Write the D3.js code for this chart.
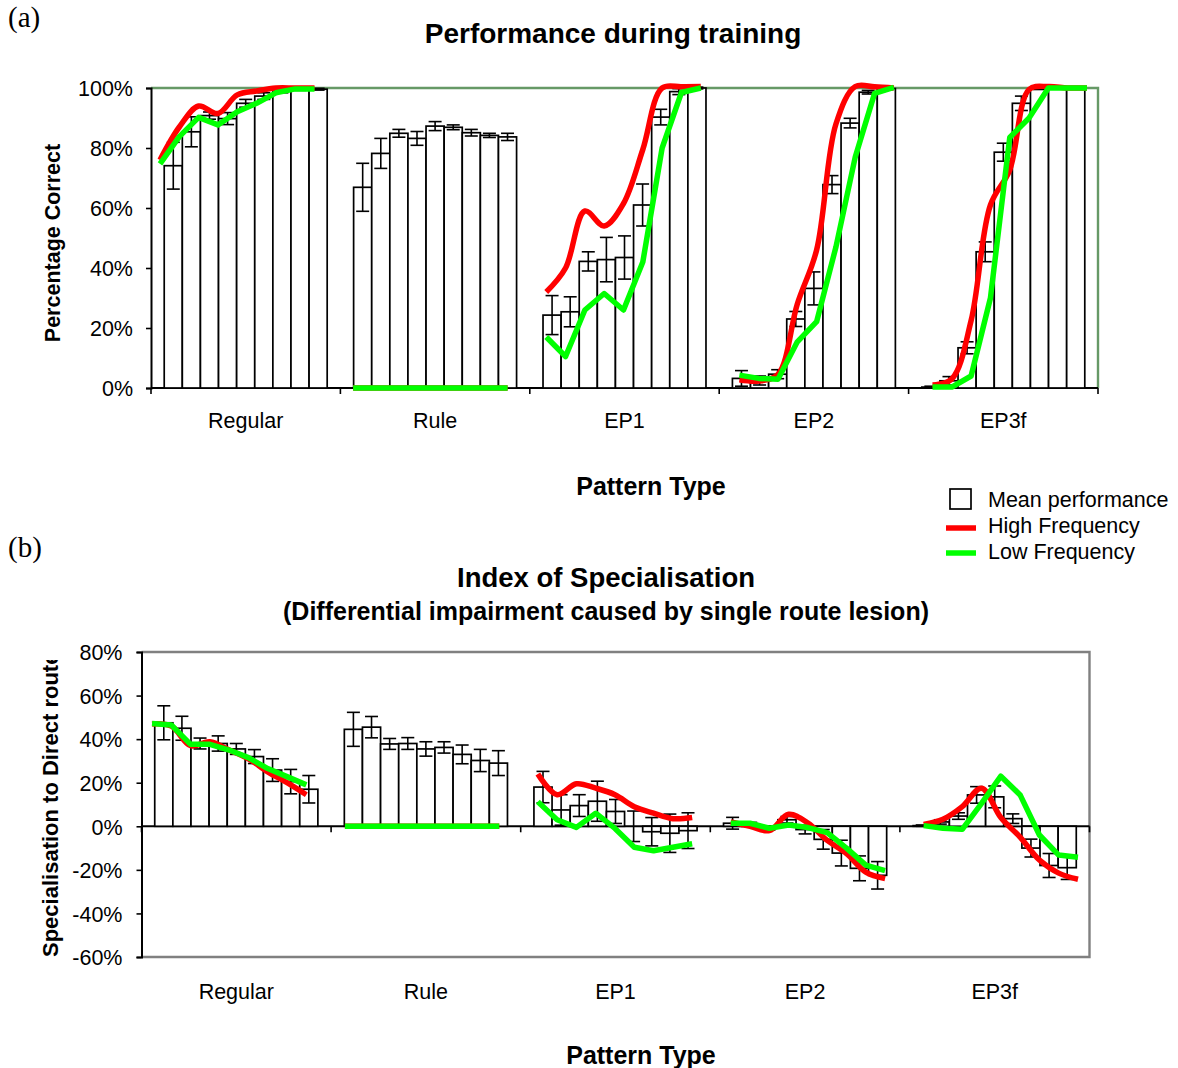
<!DOCTYPE html>
<html>
<head>
<meta charset="utf-8">
<script src="https://cdn.jsdelivr.net/npm/d3@7"></script>
<style>
  html, body { margin: 0; padding: 0; background: #fff; }
  svg text { font-family: "Liberation Sans", Arial, sans-serif; fill: #000; }
</style>
</head>
<body>
<svg id="fig" width="1178" height="1068"></svg>
<script>
// ---- data ----------------------------------------------------------
const categories = ["Regular", "Rule", "EP1", "EP2", "EP3f"];

// (a) mean performance during training (%), nine time points per pattern type
const perfMean = [
  [74.1, 85.4, 90.8, 89.8, 94.9, 97.3, 99.1, 99.6, 99.6],
  [66.9, 78.2, 84.9, 83.2, 87.3, 86.9, 85.1, 84.2, 83.7],
  [24.3, 25.4, 42.2, 42.8, 43.5, 61.0, 90.3, 98.8, 100],
  [3.2, 2.5, 4.6, 23.0, 33.2, 67.8, 88.3, 98.6, 99.8],
  [0.3, 2.4, 13.4, 45.4, 78.6, 94.9, 99.8, 100, 100]
];
const perfErr = [
  [7.8, 5.0, 1.2, 2.0, 1.3, 1.1, 0.7, 0.4, 0.3],
  [8.0, 5.0, 1.3, 2.3, 1.5, 0.8, 1.1, 0.7, 1.2],
  [6.5, 5.0, 3.2, 7.4, 7.2, 7.0, 2.6, 1.0, 0.3],
  [2.6, 1.5, 1.5, 2.5, 5.5, 3.0, 1.6, 0.6, 0.3],
  [0.3, 1.4, 2.0, 3.3, 3.0, 2.4, 0.3, 0, 0]
];
const perfHigh = [
  [76, 87, 94, 91.5, 97.7, 99, 100, 100, 100],
  [0, 0, 0, 0, 0, 0, 0, 0, 0],
  [32, 40, 59, 54, 61.5, 79.5, 100, 100.4, 100.5],
  [2.7, 2.3, 4.5, 28, 46, 88, 100.5, 100.4, 100],
  [1, 3, 22.5, 61, 72.7, 99.5, 100.5, 100, 100]
];
const perfLow = [
  [74.7, 83.8, 90.2, 87.7, 92.1, 94.9, 98.4, 99.7, 99.7],
  [0, 0, 0, 0, 0, 0, 0, 0, 0],
  [17, 10.5, 26, 31.5, 26, 42, 80, 98.5, 100],
  [4.3, 3.2, 2.9, 15.4, 22.1, 47, 77, 98.2, 100.2],
  [0.3, 0.3, 4, 30, 83.5, 90, 100, 100, 100]
];
const perfTicks = [0, 20, 40, 60, 80, 100];

// (b) index of specialisation (%)
const specMean = [
  [47.5, 45.0, 38.0, 38.0, 35.5, 32.0, 25.8, 20.5, 17.0],
  [44.5, 45.5, 37.8, 38.0, 35.5, 36.2, 33.0, 30.2, 29.0],
  [18.0, 7.5, 9.5, 11.5, 6.8, 0.0, -2.5, -3.2, -2.0],
  [1.4, 0.8, -0.8, 3.0, -1.5, -6.0, -12.3, -19.3, -22.5],
  [0.3, 2.0, 4.7, 14.4, 13.5, 3.5, -10.0, -18.0, -19.0]
];
const specErr = [
  [7.8, 5.5, 2.5, 3.5, 2.5, 3.2, 5.2, 5.6, 6.3],
  [7.8, 4.9, 2.5, 2.7, 3.3, 2.6, 4.3, 5.1, 5.7],
  [7.2, 7.0, 5.0, 9.2, 5.5, 7.0, 6.5, 8.8, 8.2],
  [2.7, 1.0, 1.0, 1.5, 2.0, 4.5, 5.9, 5.7, 6.3],
  [0.3, 1.0, 1.5, 3.8, 5.0, 2.2, 4.1, 5.5, 5.4]
];
const specHigh = [
  [47, 46, 37, 38.8, 35, 31, 25, 20, 14.5],
  [0, 0, 0, 0, 0, 0, 0, 0, 0],
  [24, 14.5, 19.5, 17.5, 14.5, 9, 6, 3.5, 4],
  [2, 0, -2, 5.5, 1.5, -6.5, -12.5, -21, -24],
  [0.8, 3.2, 9, 17.5, 4, -5, -15.5, -21.5, -24.3]
];
const specLow = [
  [47.2, 46.5, 37.6, 37.6, 35, 31.5, 26.5, 22.8, 19],
  [0, 0, 0, 0, 0, 0, 0, 0, 0],
  [11.3, 3, -0.5, 6, -1, -9.6, -11.2, -9.6, -8],
  [1.4, 1.4, -0.9, 0.6, -0.6, -2.9, -10, -17.8, -20.4],
  [0.3, -0.9, -1.4, 10.5, 23, 14.4, -4, -13.2, -14.2]
];
const specTicks = [-60, -40, -20, 0, 20, 40, 60, 80];

const legendItems = ["Mean performance", "High Frequency", "Low Frequency"];

// ---- drawing helpers ------------------------------------------------
const svg = d3.select("#fig");
const RED = "#ff0000", GREEN = "#00ff00";
const pct = d => d + "%";

// one panel: bars with error bars, plus the two frequency lines
function panel(cfg) {
  const g = svg.append("g");
  const { x0, x1, yTop, yBot, domain, mean, err, high, low, ticks, slotRange } = cfg;

  const y = d3.scaleLinear().domain(domain).range([yBot, yTop]);
  const group = d3.scaleBand().domain(categories).range([x0, x1]);
  const bar = d3.scaleBand().domain(d3.range(9)).range([0, group.bandwidth()])
    .paddingInner(0).paddingOuter(0.73);
  // the frequency lines use their own point scale: 9 points plus one empty slot per group
  const slot = d3.scalePoint().domain(d3.range(49)).range(slotRange);
  const base = y(Math.max(domain[0], 0));

  // frame
  cfg.frame(g, y, x0, x1);

  // y axis
  const yAxis = d3.axisLeft(y).tickValues(ticks).tickFormat(pct).tickSize(5).tickPadding(cfg.tickPad);
  const ya = g.append("g").attr("transform", `translate(${x0},0)`).call(yAxis);
  ya.select(".domain").attr("stroke", "#000").attr("stroke-width", 2);
  ya.selectAll(".tick line").attr("stroke", "#000").attr("stroke-width", 1.6);
  ya.selectAll(".tick text").style("font-size", "21.5px")
    .attr("font-family", "Liberation Sans, Arial, sans-serif").attr("dy", "0.36em");

  // category axis on the zero line
  const xa = g.append("g").attr("transform", `translate(0,${base})`);
  xa.append("line").attr("x1", x0).attr("x2", x1).attr("stroke", "#000").attr("stroke-width", 2);
  const bounds = categories.map(c => group(c)).concat([x1]);
  xa.selectAll("line.bt").data(bounds).join("line").attr("class", "bt")
    .attr("x1", d => d).attr("x2", d => d).attr("y1", 0).attr("y2", 6)
    .attr("stroke", "#000").attr("stroke-width", 1.6);
  g.selectAll("text.cat").data(categories).join("text").attr("class", "cat")
    .attr("x", d => group(d) + group.bandwidth() / 2).attr("y", cfg.catY)
    .attr("text-anchor", "middle").style("font-size", "21.5px").text(d => d);

  // bars
  categories.forEach((c, gi) => {
    const gx = group(c);
    const items = mean[gi].map((v, i) => ({ v, e: err[gi][i], i }));
    g.selectAll(null).data(items).join("rect")
      .attr("x", d => gx + bar(d.i)).attr("width", bar.bandwidth())
      .attr("y", d => Math.min(y(d.v), y(0)))
      .attr("height", d => Math.abs(y(d.v) - y(0)))
      .attr("fill", "#fff").attr("stroke", "#000").attr("stroke-width", 1.7);
    // error bars
    const eb = g.selectAll(null).data(items.filter(d => d.e > 0)).join("g")
      .attr("transform", d => `translate(${gx + bar(d.i) + bar.bandwidth() / 2},0)`);
    eb.append("line").attr("y1", d => y(d.v + d.e)).attr("y2", d => y(d.v - d.e))
      .attr("stroke", "#000").attr("stroke-width", 1.6);
    eb.selectAll("line.cap").data(d => [d.v + d.e, d.v - d.e]).join("line").attr("class", "cap")
      .attr("x1", -6.5).attr("x2", 6.5).attr("y1", d => y(d)).attr("y2", d => y(d))
      .attr("stroke", "#000").attr("stroke-width", 1.6);
  });

  // frequency lines (high smoothed, low straight)
  const series = [
    { data: high, color: RED, curve: d3.curveCatmullRom.alpha(0.5) },
    { data: low, color: GREEN, curve: d3.curveLinear }
  ];
  series.forEach(s => {
    s.data.forEach((vals, gi) => {
      const line = d3.line().x((v, i) => slot(gi * 10 + i)).y(v => y(v)).curve(s.curve);
      g.append("path").attr("d", line(vals)).attr("fill", "none")
        .attr("stroke", s.color).attr("stroke-width", 5.5)
        .attr("stroke-linejoin", "round").attr("stroke-linecap", "butt");
    });
  });
  return g;
}

// ---- (a) performance during training ---------------------------------
panel({
  x0: 151, x1: 1098, yTop: 88, yBot: 388, domain: [0, 100],
  mean: perfMean, err: perfErr, high: perfHigh, low: perfLow,
  ticks: perfTicks, slotRange: [160, 1087], tickPad: 13, catY: 428,
  frame: (g, y, x0, x1) => {
    g.append("path").attr("d", `M${x0},${y(100)}H${x1}V${y(0)}`)
      .attr("fill", "none").attr("stroke", "#669966").attr("stroke-width", 2.4);
  }
});

svg.append("text").attr("x", 8).attr("y", 27)
  .style("font-family", "'Liberation Serif', 'Times New Roman', serif").style("font-size", "29px").text("(a)");
svg.append("text").attr("x", 613).attr("y", 43).attr("text-anchor", "middle")
  .style("font-size", "28px").style("font-weight", "bold").text("Performance during training");
svg.append("text").attr("transform", "translate(60,243) rotate(-90)").attr("text-anchor", "middle")
  .style("font-size", "21.5px").style("font-weight", "bold").text("Percentage Correct");
svg.append("text").attr("x", 651).attr("y", 495).attr("text-anchor", "middle")
  .style("font-size", "25px").style("font-weight", "bold").text("Pattern Type");

// legend
const lg = svg.append("g");
lg.append("rect").attr("x", 950).attr("y", 489).attr("width", 21).attr("height", 20)
  .attr("fill", "#fff").attr("stroke", "#000").attr("stroke-width", 1.7);
lg.append("line").attr("x1", 946).attr("x2", 976).attr("y1", 528).attr("y2", 528)
  .attr("stroke", RED).attr("stroke-width", 5.5);
lg.append("line").attr("x1", 946).attr("x2", 976).attr("y1", 553).attr("y2", 553)
  .attr("stroke", GREEN).attr("stroke-width", 5.5);
lg.selectAll("text").data(legendItems).join("text")
  .attr("x", 988).attr("y", (d, i) => 507 + i * 26)
  .style("font-size", "21.5px").text(d => d);

// ---- (b) index of specialisation ---------------------------------------
panel({
  x0: 141.5, x1: 1089.5, yTop: 652, yBot: 957, domain: [-60, 80],
  mean: specMean, err: specErr, high: specHigh, low: specLow,
  ticks: specTicks, slotRange: [152, 1078], tickPad: 14, catY: 999,
  frame: (g, y, x0, x1) => {
    g.append("path").attr("d", `M${x0},${y(80)}H${x1}V${y(-60)}H${x0}`)
      .attr("fill", "none").attr("stroke", "#808080").attr("stroke-width", 2.4);
  }
});

svg.append("text").attr("x", 8).attr("y", 557)
  .style("font-family", "'Liberation Serif', 'Times New Roman', serif").style("font-size", "29px").text("(b)");
svg.append("text").attr("x", 606).attr("y", 587).attr("text-anchor", "middle")
  .style("font-size", "27.5px").style("font-weight", "bold").text("Index of Specialisation");
svg.append("text").attr("x", 606).attr("y", 620).attr("text-anchor", "middle")
  .style("font-size", "25px").style("font-weight", "bold")
  .text("(Differential impairment caused by single route lesion)");

// y title is cut off at the top of the panel
svg.append("defs").append("clipPath").attr("id", "ytitle-clip")
  .append("rect").attr("x", 0).attr("y", 660).attr("width", 120).attr("height", 400);
svg.append("g").attr("clip-path", "url(#ytitle-clip)")
  .append("text").attr("transform", "translate(58,957) rotate(-90)").attr("text-anchor", "start")
  .style("font-size", "22px").style("font-weight", "bold").text("Specialisation to Direct route");
svg.append("text").attr("x", 641).attr("y", 1064).attr("text-anchor", "middle")
  .style("font-size", "25px").style("font-weight", "bold").text("Pattern Type");
</script>
</body>
</html>
